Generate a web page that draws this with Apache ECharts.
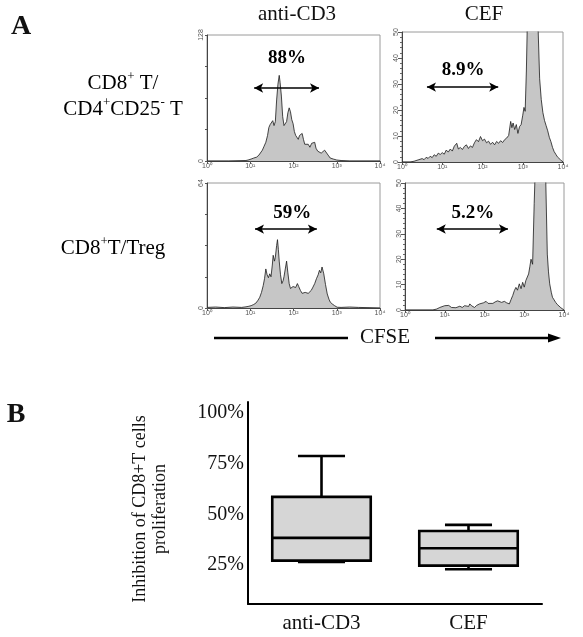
<!DOCTYPE html>
<html><head><meta charset="utf-8">
<script src="https://cdn.jsdelivr.net/npm/echarts@6/dist/echarts.min.js"></script>
<style>html,body{margin:0;padding:0;background:#fff}#c{width:583px;height:637px}</style>
</head><body><div id="c"></div>
<script>
// ---------- DATA ----------
const decadeLabels = ['10⁰','10¹','10²','10³','10⁴'];
const columnTitles = ['anti-CD3','CEF'];
// CFSE histograms: [log10 CFSE, cell count]
const histAntiCD3_CD4 = [[0,0],[0.5,0],[0.9,0.5],[0.95,1],[1.02,2],[1.08,3],[1.15,4],[1.2,6],[1.24,8],[1.28,11],[1.32,15],[1.36,19],[1.40,26],[1.43,34],[1.46,37],[1.49,35],[1.52,41],[1.55,36],[1.58,40],[1.61,62],[1.64,78],[1.67,87],[1.69,80],[1.72,66],[1.75,45],[1.78,36],[1.81,34],[1.84,40],[1.87,49],[1.90,54],[1.93,50],[1.96,42],[1.99,38],[2.02,30],[2.05,26],[2.08,24],[2.11,22],[2.14,26],[2.17,27],[2.20,28],[2.23,22],[2.26,17],[2.30,15],[2.34,17],[2.38,14],[2.42,18],[2.46,20],[2.49,19],[2.52,13],[2.56,10],[2.60,8],[2.64,8],[2.68,10],[2.72,11],[2.76,9],[2.80,6],[2.85,3],[2.92,2],[3.0,1],[3.1,0.5],[3.3,0],[4.0,0]];
const histCEF_CD4 = [[0,0],[0.2,0],[0.3,0.3],[0.4,0.8],[0.5,1.3],[0.55,0.9],[0.6,1.8],[0.65,1.4],[0.7,2.2],[0.75,1.7],[0.8,2.8],[0.85,2.2],[0.9,3.4],[0.95,2.9],[1.0,3.6],[1.05,3.0],[1.1,4.6],[1.15,3.8],[1.2,5.0],[1.25,4.2],[1.3,6.1],[1.36,7.2],[1.4,5.0],[1.45,5.6],[1.5,4.8],[1.55,6.0],[1.6,6.6],[1.65,5.2],[1.7,6.2],[1.75,5.6],[1.8,7.4],[1.85,8.6],[1.9,7.8],[1.95,9.8],[2.0,8.2],[2.05,8.8],[2.1,7.4],[2.15,8.0],[2.2,6.8],[2.25,7.6],[2.3,6.6],[2.35,7.9],[2.4,7.2],[2.45,8.2],[2.5,7.5],[2.55,8.6],[2.6,9.2],[2.65,10.2],[2.7,15.6],[2.73,13.2],[2.76,15.0],[2.8,12.5],[2.84,14.4],[2.88,11.0],[2.92,13.6],[2.96,14.4],[3.0,18.0],[3.03,21.0],[3.06,19.5],[3.09,35],[3.12,58],[3.16,75],[3.22,85],[3.28,82],[3.34,70],[3.38,52],[3.42,32],[3.46,24],[3.50,19],[3.54,16],[3.58,14],[3.62,12],[3.66,9.5],[3.70,7.8],[3.74,5.6],[3.78,4.0],[3.82,3.0],[3.86,2.0],[3.9,1.4],[3.94,0.8],[3.98,0.2],[4.0,0]];
const histAntiCD3_Treg = [[0,0.3],[0.2,0.5],[0.4,0.2],[0.6,0.5],[0.8,0.3],[0.9,0.6],[0.95,0.8],[1.02,1.2],[1.08,1.8],[1.13,2.5],[1.18,4],[1.22,5.5],[1.26,8],[1.30,11.5],[1.33,15],[1.36,20],[1.39,17],[1.42,15.5],[1.45,17.5],[1.48,16],[1.51,22],[1.53,27],[1.56,24],[1.58,26],[1.61,32],[1.63,35],[1.65,30],[1.67,24],[1.70,17],[1.73,12.5],[1.76,14],[1.78,16],[1.81,20],[1.84,24],[1.87,18],[1.90,12.5],[1.93,10],[1.96,9],[1.99,11],[2.02,12],[2.05,10.5],[2.09,12.5],[2.12,11],[2.16,9],[2.20,7.5],[2.23,6.5],[2.27,8],[2.31,9],[2.34,7.5],[2.37,7.2],[2.41,9],[2.45,10.7],[2.49,12.5],[2.53,15],[2.57,17],[2.60,19.3],[2.63,18],[2.66,21],[2.70,17.5],[2.74,12],[2.78,7.2],[2.82,4.5],[2.85,3],[2.90,2],[2.95,1.2],[3.01,0.4],[3.1,0.3],[3.3,0.5],[3.5,0.3],[3.7,0.2],[4.0,0]];
const histCEF_Treg = [[0,0],[0.7,0],[0.8,0.4],[0.875,1.0],[0.92,0.6],[1.0,1.7],[1.05,1.2],[1.1,1.8],[1.17,1.0],[1.22,1.4],[1.28,0.9],[1.33,0.8],[1.38,1.5],[1.44,1.0],[1.5,1.7],[1.55,2.2],[1.6,1.4],[1.63,2.4],[1.68,1.6],[1.75,1.0],[1.8,1.8],[1.875,2.4],[1.92,1.9],[1.97,2.8],[2.04,3.4],[2.09,2.6],[2.14,3.0],[2.21,2.6],[2.27,3.2],[2.33,3.6],[2.375,3.9],[2.43,3.0],[2.5,3.4],[2.56,2.8],[2.625,2.4],[2.67,4.2],[2.71,5.7],[2.75,7.6],[2.79,8.9],[2.83,7.8],[2.875,10.3],[2.92,8.4],[2.96,10.9],[3.0,9.0],[3.04,11.6],[3.08,12.2],[3.11,14.2],[3.14,17],[3.17,20],[3.21,18],[3.25,42],[3.29,62],[3.35,85],[3.42,90],[3.49,75],[3.54,52],[3.58,22],[3.61,15],[3.64,10.3],[3.68,7.0],[3.71,5.0],[3.75,4.0],[3.79,3.0],[3.83,2.2],[3.875,1.7],[3.92,0.9],[3.96,0.4],[4.0,0]];
const countMax = [128, 50, 64, 50];
// proliferation gates: [from, to, height]
const gates = [[1.09,2.59,74.2],[0.62,2.39,28.8],[1.11,2.54,40.4],[0.80,2.59,31.9]];
const gatePercents = ['88%','8.9%','59%','5.2%'];
const gateLabelAt = [[1.85,104.6],[1.52,35.4],[1.97,48.6],[1.71,38.2]];
// Panel B box plot: [min, Q1, median, Q3, max] (% inhibition)
const boxCategories = ['anti-CD3','CEF'];
const boxStats = [[26.5,27.2,38.4,58.6,78.8],[22.9,24.7,33.3,41.8,44.8]];
const boxTicks = [25,50,75,100];

// ---------- CHART ----------
const SERIF = '"Liberation Serif","Times New Roman",serif';
const SANS = '"Liberation Sans",Arial,sans-serif';
const hists = [histAntiCD3_CD4, histCEF_CD4, histAntiCD3_Treg, histCEF_Treg];
const gridsPx = [
  {left:207, top:35, width:173, height:126},
  {left:402, top:32, width:161, height:130},
  {left:207, top:183, width:173, height:125},
  {left:405, top:183, width:159, height:127},
  {left:248, top:402, width:294, height:202}
];
const grid = gridsPx.map((g,i)=>Object.assign({}, g, i<4 ? {show:true, borderColor:'#9a9a9a', borderWidth:1, backgroundColor:'#fff'} : {}));

const xAxis = [], yAxis = [], series = [];
for (let i=0;i<4;i++){
  xAxis.push({gridIndex:i, type:'value', min:0, max:4, interval:1,
    axisLine:{show:true, onZero:false, lineStyle:{color:'#444', width:1}},
    axisTick:{show:true, length:3, lineStyle:{color:'#555'}},
    minorTick:{show:false},
    splitLine:{show:false},
    axisLabel:{fontSize:7, fontFamily:SANS, color:'#555', margin:2, formatter:v=>decadeLabels[v]}});
  const cm = countMax[i];
  const isFine = cm===50;
  yAxis.push({gridIndex:i, type:'value', min:0, max:cm, interval: isFine?10:cm/4,
    axisLine:{show:true, lineStyle:{color:'#444', width:1}},
    axisTick:{show:true, length: isFine?4:2, lineStyle:{color:'#555'}},
    minorTick:{show:isFine, splitNumber:5, length:2, lineStyle:{color:'#666'}},
    splitLine:{show:false},
    axisLabel:{fontSize:7, fontFamily:SANS, color:'#555', margin:2, rotate:90,
      formatter: v => isFine ? String(v) : ((v===0||v===cm) ? String(v) : '')}});
  series.push({type:'line', xAxisIndex:i, yAxisIndex:i, data:hists[i], showSymbol:false, symbol:'none',
    clip:true, smooth:false,
    lineStyle:{color:'#1a1a1a', width:0.8},
    areaStyle:{color:'#c6c6c6', opacity:1},
    markLine:{silent:true, symbol:['arrow','arrow'], symbolSize:[7,9], animation:false,
      lineStyle:{color:'#000', width:1.6, type:'solid'}, label:{show:false},
      data:[[{coord:[gates[i][0],gates[i][2]]},{coord:[gates[i][1],gates[i][2]]}]]},
    markPoint:{silent:true, symbol:'circle', symbolSize:1, itemStyle:{color:'rgba(0,0,0,0)'}, animation:false,
      label:{show:true, position:'inside', formatter:gatePercents[i], fontFamily:SERIF, fontWeight:'bold', fontSize:19, color:'#000'},
      data:[{coord:gateLabelAt[i]}]}
  });
}
// box plot axes
xAxis.push({gridIndex:4, type:'category', data:boxCategories,
  axisLine:{show:true, lineStyle:{color:'#000', width:2}},
  axisTick:{show:false},
  axisLabel:{fontFamily:SERIF, fontSize:21, color:'#111', margin:9}});
yAxis.push({gridIndex:4, type:'value', min:5.8, max:105.4,
  axisLine:{show:true, lineStyle:{color:'#000', width:2}},
  axisTick:{show:false}, splitLine:{show:false},
  axisLabel:{customValues:boxTicks, formatter:v=>v+'%', fontFamily:SERIF, fontSize:20, color:'#111', margin:4},
  name:'Inhibition of CD8+T cells\nproliferation', nameLocation:'middle', nameRotate:90, nameGap:78,
  nameTextStyle:{fontFamily:SERIF, fontSize:18, color:'#111', lineHeight:20, padding:[0,12,0,0]}});
series.push({type:'custom', xAxisIndex:4, yAxisIndex:4,
  data: boxStats.map((s,i)=>[i].concat(s)),
  encode:{x:0, y:[1,2,3,4,5]},
  renderItem:function(params, api){
    const idx = api.value(0);
    const cx = api.coord([idx, 0])[0];
    const yOf = k => api.coord([idx, api.value(k)])[1];
    const lo=yOf(1), q1=yOf(2), med=yOf(3), q3=yOf(4), hi=yOf(5);
    const band = api.size([1,0])[0];
    const bw = band*0.67, cw = band*0.32;
    const ls = {stroke:'#000', lineWidth:2.6};
    return {type:'group', children:[
      {type:'line', shape:{x1:cx, y1:q3, x2:cx, y2:hi}, style:ls},
      {type:'line', shape:{x1:cx, y1:q1, x2:cx, y2:lo}, style:ls},
      {type:'line', shape:{x1:cx-cw/2, y1:hi, x2:cx+cw/2, y2:hi}, style:ls},
      {type:'line', shape:{x1:cx-cw/2, y1:lo, x2:cx+cw/2, y2:lo}, style:ls},
      {type:'rect', shape:{x:cx-bw/2, y:q3, width:bw, height:q1-q3}, style:{fill:'#d6d6d6', stroke:'#000', lineWidth:2.6}},
      {type:'line', shape:{x1:cx-bw/2, y1:med, x2:cx+bw/2, y2:med}, style:ls}
    ]};
  }
});

function txt(x, y, text, font, align, extra){
  return Object.assign({type:'text', x:x, y:y, silent:true,
    style:{text:text, font:font, fill:'#111', align:align||'center', verticalAlign:'middle', textAlign:align||'center', textVerticalAlign:'middle'}}, extra||{});
}
const rowRich = {
  a:{fontFamily:SERIF, fontSize:21, lineHeight:26, color:'#111'},
  s:{fontFamily:SERIF, fontSize:13, lineHeight:26, color:'#111', verticalAlign:'top'}
};
const graphic = [
  txt(21, 27, 'A', 'bold 28px '+SERIF),
  txt(16, 415, 'B', 'bold 28px '+SERIF),
  txt(297, 14, columnTitles[0], '21px '+SERIF),
  txt(484, 14, columnTitles[1], '21px '+SERIF),
  {type:'text', x:123, y:96, silent:true, style:{text:'{a|CD8}{s|+}{a| T/}\n{a|CD4}{s|+}{a|CD25}{s|-}{a| T}', rich:rowRich, align:'center', verticalAlign:'middle', textAlign:'center', textVerticalAlign:'middle'}},
  {type:'text', x:113, y:248, silent:true, style:{text:'{a|CD8}{s|+}{a|T/Treg}', rich:rowRich, align:'center', verticalAlign:'middle', textAlign:'center', textVerticalAlign:'middle'}},
  txt(385, 337, 'CFSE', '21px '+SERIF),
  {type:'line', silent:true, shape:{x1:214, y1:338, x2:348, y2:338}, style:{stroke:'#000', lineWidth:2.5}},
  {type:'line', silent:true, shape:{x1:435, y1:338, x2:550, y2:338}, style:{stroke:'#000', lineWidth:2.5}},
  {type:'polygon', silent:true, shape:{points:[[548,333.5],[561,338],[548,342.5]]}, style:{fill:'#000'}}
];

const chart = echarts.init(document.getElementById('c'), null, {renderer:'canvas'});
chart.setOption({animation:false, backgroundColor:'#fff', grid, xAxis, yAxis, series, graphic});
</script></body></html>
